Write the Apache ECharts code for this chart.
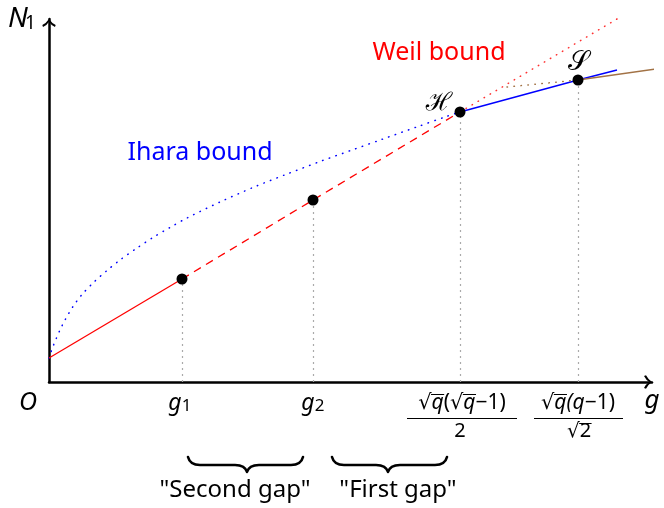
<!DOCTYPE html>
<html><head><meta charset="utf-8">
<script src="https://cdn.jsdelivr.net/npm/echarts@6/dist/echarts.min.js"></script>
<style>html,body{margin:0;padding:0;background:#fff}#c{width:664px;height:508px}</style>
</head><body><div id="c"></div>
<script>
// ---- data (chart units) ----
const xMax = 603, yMax = 363;
const iharaCurve = [[0,24],[2,30],[4,35.5],[7,43],[11,52],[16,62],[24,75.5],[33,87.5],[45,100],[58,111.5],[71,122],[88,134],[104,144.5],[121,154.5],[138,164],[171,180],[204,194.5],[238,208],[271,220.5],[304,232.3],[334,243],[368,255.1],[398,265.7],[411,270]];
const weilSolid = [[0,24],[133,103]];
const weilDashed = [[133,103],[264,182],[411,270]];
const weilDotted = [[411,270],[568,363]];
const hsSegment = [[411,270],[529,302],[568,312]];
const brownSolid = [[529,302],[606,313]];
const brownDotted = [[458,295],[529,302]];
const keyPoints = [[133,103],[264,182],[411,270],[529,302]];
const boundNames = ['Weil bound', 'Ihara bound'];
const gapNames = ['"Second gap"', '"First gap"'];

const SANS = "'Noto Sans','DejaVu Sans',sans-serif";
const arrowPath = 'path://M0,9 Q6,6 10,0 Q14,6 20,9 L19,12 Q13,9 10,4 Q7,9 1,12 Z';

const mctx = document.createElement('canvas').getContext('2d');
function measure(t, font){ mctx.font = font; return mctx.measureText(t).width; }

function renderAnno(params, api){
  const ch = [];
  const P = (x,y) => api.coord([x,y]);
  function txt(x,y,str,font,fill,align){
    const p = P(x,y);
    ch.push({type:'text', x:p[0], y:p[1], style:{text:str, font:font, fill:fill||'#000', align:align||'center', verticalAlign:'middle'}});
  }
  function subbed(x,y,main,sub,mSize,sSize,kern,drop){
    const p = P(x,y);
    const mf = 'italic '+mSize+'px '+SANS, sf = sSize+'px '+SANS;
    const wm = measure(main, mf);
    ch.push({type:'text', x:p[0], y:p[1], style:{text:main, font:mf, fill:'#000', align:'center', verticalAlign:'middle'}});
    ch.push({type:'text', x:p[0]+wm/2-kern, y:p[1]+drop, style:{text:sub, font:sf, fill:'#000', align:'left', verticalAlign:'middle'}});
  }
  function row(x,y,tokens,size){
    const p = P(x,y);
    const fonts = tokens.map(t => (t[1] ? 'italic ' : '') + size + 'px ' + SANS);
    const w = tokens.map((t,i) => measure(t[0], fonts[i]));
    let cx = p[0] - w.reduce((a,b)=>a+b,0)/2;
    tokens.forEach((t,i) => {
      ch.push({type:'text', x:cx, y:p[1], style:{text:t[0], font:fonts[i], fill:'#000', align:'left', verticalAlign:'middle'}});
      if (t[2]) {
        const yy = Math.round(p[1] - 0.42*size) + 0.5;
        ch.push({type:'line', shape:{x1:cx-0.5, y1:yy, x2:cx+w[i]+0.5, y2:yy}, style:{stroke:'#000', lineWidth:1}});
      }
      cx += w[i];
    });
  }
  function bar(x1,x2,y){
    const a = P(x1,y), b = P(x2,y);
    const yy = Math.round(a[1]) + 0.5;
    ch.push({type:'line', shape:{x1:a[0], y1:yy, x2:b[0], y2:yy}, style:{stroke:'#000', lineWidth:1.1}});
  }
  function brace(x0,x1,xm,yt,ym,yc){
    const A=P(x0,yt), B=P(x1,yt), C=P(xm,yc), L=P(x0,ym);
    const ymp = L[1], c = 12;
    const d = 'M'+A[0]+','+A[1]+' Q'+(A[0]+2)+','+ymp+' '+(A[0]+c)+','+ymp+
      ' L'+(C[0]-c)+','+ymp+' Q'+(C[0]-2)+','+ymp+' '+C[0]+','+C[1]+
      ' Q'+(C[0]+2)+','+ymp+' '+(C[0]+c)+','+ymp+
      ' L'+(B[0]-c)+','+ymp+' Q'+(B[0]-2)+','+ymp+' '+B[0]+','+B[1];
    ch.push({type:'path', shape:{pathData:d}, style:{fill:null, stroke:'#000', lineWidth:2.6, lineCap:'round', lineJoin:'round'}});
  }
  // axis names and tick-like labels
  subbed(-31, 363, 'N', '1', 28, 19, 3, 5);
  txt(-21, -21, 'O', 'italic 25px '+SANS);
  subbed(126, -21, 'g', '1', 23, 17, 0, 3);
  subbed(259, -21, 'g', '2', 23, 17, 0, 3);
  txt(603, -19, 'g', 'italic 26px '+SANS);
  // fractions
  row(413, -21, [['√'],['q',1,1],['('],['√'],['q',1,1],['−1)']], 21);
  bar(358, 468, -36);
  row(411, -49, [['2']], 20);
  row(529, -21, [['√'],['q',1,1],['(q',1],['−1)']], 21);
  bar(485, 574, -36);
  row(530, -49, [['√'],['2',0,1]], 20);
  // bounds and points
  txt(390, 329, boundNames[0], '25px '+SANS, '#ff0000');
  txt(151, 229, boundNames[1], '25px '+SANS, '#0000ff');
  txt(390, 279, 'ℋ', 'italic 25px '+SANS);
  txt(529, 320, '𝒮', '27px '+SANS);
  // gaps
  brace(139, 254, 198, -75, -83, -90);
  brace(283, 398, 339, -75, -83, -90);
  txt(186, -108, gapNames[0], '24px '+SANS);
  txt(349, -108, gapNames[1], '24px '+SANS);
  return {type:'group', children:ch};
}

const dotted = (c) => ({color:c, width:1.5, type:[0.5,6.5], cap:'round'});
const lineS = (name, data, ls, z) => ({type:'line', name, data, symbol:'none', lineStyle:ls, clip:false, silent:true, z:z||2});

const chart = echarts.init(document.getElementById('c'), null, {renderer:'canvas'});
chart.setOption({
  animation:false,
  backgroundColor:'#fff',
  grid:{left:49, right:12, top:19, bottom:126},
  xAxis:{type:'value', min:0, max:xMax, axisLine:{show:true, onZero:false, symbol:['none', arrowPath], symbolSize:[18,8], symbolOffset:[0,-4], lineStyle:{color:'#000', width:2.5}}, axisTick:{show:false}, axisLabel:{show:false}, splitLine:{show:false}},
  yAxis:{type:'value', min:0, max:yMax, axisLine:{show:true, onZero:false, symbol:['none', arrowPath], symbolSize:[18,8], symbolOffset:[0,-4], lineStyle:{color:'#000', width:2.5}}, axisTick:{show:false}, axisLabel:{show:false}, splitLine:{show:false}},
  series:[
    Object.assign(lineS('Ihara bound', iharaCurve, dotted('#0000ff')), {smooth:0.3}),
    lineS('Weil solid', weilSolid, {color:'#ff0000', width:1.3}),
    lineS('Weil dashed', weilDashed, {color:'#ff0000', width:1.3, type:[8,6]}),
    lineS('Weil dotted', weilDotted, dotted('#ff3030')),
    lineS('H-S', hsSegment, {color:'#0000ff', width:1.5}),
    lineS('brown', brownSolid, {color:'#a27245', width:1.5}),
    lineS('brown dotted', brownDotted, dotted('#a27245')),
    {type:'scatter', data:keyPoints, symbolSize:11, itemStyle:{color:'#000', opacity:1}, z:5, silent:true,
      markLine:{silent:true, symbol:['none','none'], label:{show:false}, lineStyle:{color:'#aaaaaa', width:1.2, type:[2,4]}, z:1,
        data: keyPoints.map(p => [{coord:[p[0],0]},{coord:[p[0],p[1]]}])}},
    {type:'custom', data:[[0,0]], renderItem:renderAnno, clip:false, silent:true, z:6}
  ]
});
</script></body></html>
